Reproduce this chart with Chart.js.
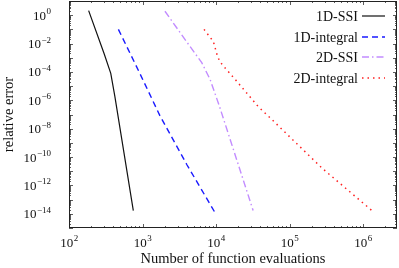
<!DOCTYPE html>
<html>
<head>
<meta charset="UTF-8">
<title>relative error</title>
<script src="https://cdn.jsdelivr.net/npm/chart.js"></script>
<style>
  body { margin: 0; background: #fff; }
  #wrap { width: 399px; height: 268px; }
</style>
</head>
<body>
<div id="wrap"><canvas id="c" width="399" height="268"></canvas></div>
<script>
// number of function evaluations and relative error per method
const ssi1dN = [185, 300, 370, 420, 750];
const ssi1dErr = [2.1, 2e-3, 8e-5, 2e-6, 1.7e-14];
const int1dN = [470, 900, 1730, 4000, 9700];
const int1dErr = [1e-1, 1e-4, 8e-8, 3e-11, 1.2e-14];
const ssi2dN = [2020, 4000, 6400, 8300, 11100, 32000];
const ssi2dErr = [1.9, 1.3e-2, 4.5e-4, 3e-5, 4e-7, 1.7e-14];
const int2dN = [6870, 9200, 10400, 11300, 13200, 18200, 37700, 54300, 279000, 1380000];
const int2dErr = [1e-1, 1.4e-2, 1.45e-3, 5.2e-4, 2e-4, 3e-5, 3.5e-7, 5.9e-8, 1.6e-11, 1.4e-14];

const seriesNames = ["1D-SSI", "1D-integral", "2D-SSI", "2D-integral"];
const xTickExps = [2, 3, 4, 5, 6];
const yTickExps = [0, -2, -4, -6, -8, -10, -12, -14];

const FONT = "'Liberation Serif', serif";

function pts(xs, ys) {
  return xs.map((x, i) => ({ x: x, y: ys[i] }));
}

// tick marks inside the frame, plus the frame itself
const frameTicks = {
  id: "frameTicks",
  afterDraw(chart) {
    const ctx = chart.ctx;
    const a = chart.chartArea;
    const xs = chart.scales.x, ys = chart.scales.y;
    ctx.save();
    ctx.strokeStyle = "#333";
    ctx.lineWidth = 0.8;
    for (let k = 2; k <= 6; k++) {
      for (let m = 1; m <= 9; m++) {
        const v = m * Math.pow(10, k);
        if (v > xs.max) continue;
        const px = Math.round(xs.getPixelForValue(v)) + 0.5;
        const len = m === 1 ? 4 : 2;
        ctx.beginPath();
        ctx.moveTo(px, a.bottom); ctx.lineTo(px, a.bottom - len);
        ctx.moveTo(px, a.top); ctx.lineTo(px, a.top + len);
        ctx.stroke();
      }
    }
    for (let k = -15; k <= 0; k++) {
      for (let m = 1; m <= 9; m++) {
        const v = m * Math.pow(10, k);
        if (v < ys.min || v > ys.max) continue;
        const py = Math.round(ys.getPixelForValue(v)) + 0.5;
        const len = m === 1 ? 4 : 2;
        ctx.beginPath();
        ctx.moveTo(a.left, py); ctx.lineTo(a.left + len, py);
        ctx.moveTo(a.right, py); ctx.lineTo(a.right - len, py);
        ctx.stroke();
      }
    }
    ctx.strokeStyle = "#222";
    ctx.lineWidth = 1;
    ctx.strokeRect(a.left + 0.5, a.top + 0.5, a.right - a.left - 1, a.bottom - a.top - 1);

    // tick labels 10^k
    ctx.fillStyle = "#111";
    ctx.textBaseline = "alphabetic";
    xTickExps.forEach(e => {
      const px = xs.getPixelForValue(Math.pow(10, e));
      ctx.font = "13px " + FONT;
      const w1 = ctx.measureText("10").width;
      ctx.font = "9px " + FONT;
      const w2 = ctx.measureText(String(e)).width;
      const left = px - (w1 + w2) / 2;
      ctx.font = "13px " + FONT;
      ctx.textAlign = "left";
      ctx.fillText("10", left, a.bottom + 19);
      ctx.font = "9px " + FONT;
      ctx.fillText(String(e), left + w1 + 0.5, a.bottom + 13);
    });
    yTickExps.forEach(e => {
      const py = ys.getPixelForValue(Math.pow(10, e));
      const sup = String(e).replace("-", "\u2212");
      ctx.font = "9px " + FONT;
      const w2 = ctx.measureText(sup).width;
      const right = a.left - 18;
      ctx.textAlign = "right";
      ctx.fillText(sup, right, py - 1);
      ctx.font = "13px " + FONT;
      ctx.fillText("10", right - w2 - 0.5, py + 4.5);
    });

    // legend, text left of the line sample
    const rows = [16, 37, 57, 78];
    chart.data.datasets.forEach((ds, i) => {
      ctx.font = "14px " + FONT;
      ctx.textAlign = "right";
      ctx.textBaseline = "middle";
      ctx.fillStyle = "#111";
      ctx.fillText(ds.label, 358, rows[i] + 1);
      ctx.strokeStyle = ds.borderColor;
      ctx.lineWidth = ds.borderWidth;
      ctx.setLineDash(ds.borderDash || []);
      ctx.beginPath();
      ctx.moveTo(362, rows[i]);
      ctx.lineTo(385, rows[i]);
      ctx.stroke();
    });
    ctx.restore();
  }
};

new Chart(document.getElementById("c"), {
  type: "line",
  data: {
    datasets: [
      { label: seriesNames[0], data: pts(ssi1dN, ssi1dErr), borderColor: "#111", borderWidth: 1.2 },
      { label: seriesNames[1], data: pts(int1dN, int1dErr), borderColor: "#1a1aff", borderWidth: 1.4, borderDash: [6, 4] },
      { label: seriesNames[2], data: pts(ssi2dN, ssi2dErr), borderColor: "#c28cff", borderWidth: 1.4, borderDash: [7, 3, 1.5, 3] },
      { label: seriesNames[3], data: pts(int2dN, int2dErr), borderColor: "#ff2020", borderWidth: 1.5, borderDash: [1.5, 4] }
    ]
  },
  options: {
    responsive: false,
    animation: false,
    layout: { padding: { top: 1, right: 2, left: 0, bottom: 0 } },
    elements: { point: { radius: 0 }, line: { tension: 0, fill: false } },
    plugins: { legend: { display: false }, tooltip: { enabled: false } },
    scales: {
      x: {
        type: "logarithmic",
        min: 100,
        max: 2.9e6,
        grid: { display: false },
        border: { display: false },
        ticks: { display: false },
        title: { display: true, text: "Number of function evaluations", color: "#111",
                 font: { family: FONT, size: 14.5 }, padding: { top: 2, bottom: 0 } },
        afterFit(scale) { scale.height = 40; }
      },
      y: {
        type: "logarithmic",
        min: 1e-15,
        max: 10,
        grid: { display: false },
        border: { display: false },
        ticks: { display: false },
        title: { display: true, text: "relative error", color: "#111",
                 font: { family: FONT, size: 14.5 }, padding: { top: 0, bottom: 0 } },
        afterFit(scale) { scale.width = 69; }
      }
    }
  },
  plugins: [frameTicks]
});
</script>
</body>
</html>
